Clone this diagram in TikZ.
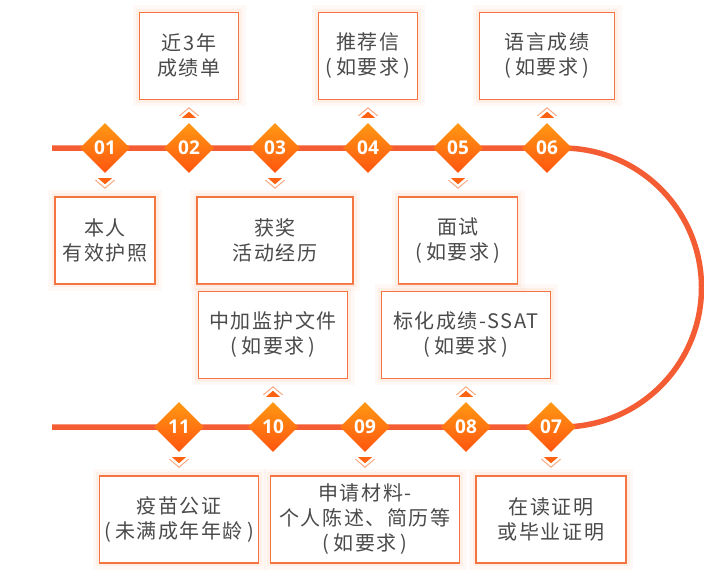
\documentclass[tikz,border=0pt]{standalone}
\usepackage{fontspec}
\setmainfont{Noto Sans CJK SC}[LetterSpace=8]
\newfontfamily\numfont{Open Sans}
\usetikzlibrary{positioning, shapes.geometric}

\definecolor{trackred}{HTML}{F45C34}
\definecolor{steptop}{HTML}{FF9812}
\definecolor{stepbot}{HTML}{FF5510}
\definecolor{cardline}{HTML}{F47442}
\definecolor{cardtext}{HTML}{4A4A4A}
\definecolor{glowc}{HTML}{FCDCCB}
\definecolor{tipline}{HTML}{F9A276}

\newcommand{\inparen}[1]{(\hspace{4pt}#1\hspace{4pt})}

\tikzset{
  track/.style={draw=trackred, line width=5.5pt},
  stepmark/.style={diamond, minimum width=50pt, minimum height=50pt, inner sep=0pt,
    top color=steptop, bottom color=stepbot, text=white,
    font=\numfont\bfseries\fontsize{19}{19}\selectfont},
  card/.style={draw=cardline, line width=1.3pt, fill=white, minimum height=87pt,
    inner xsep=1pt, align=center, text=cardtext, font=\fontsize{20}{25}\selectfont,
    preaction={draw=glowc, line width=14pt, opacity=0.18},
    preaction={draw=glowc, line width=7pt, opacity=0.35}},
  pics/downtip/.style={code={
    \draw[tipline, line width=0.9pt] (-9.5,7) -- (0,15) -- (9.5,7);
    \fill[stepbot!80!steptop] (-7,5) -- (7,5) -- (0,11) -- cycle;
  }},
  pics/uptip/.style={code={
    \draw[tipline, line width=0.9pt] (-9.5,-7) -- (0,-15) -- (9.5,-7);
    \fill[stepbot!80!steptop] (-7,-5) -- (7,-5) -- (0,-11) -- cycle;
  }}
}

\begin{document}
% pixel grid of the reference: x to the right, y downwards
\begin{tikzpicture}[x=1pt, y=-1pt]
    \useasboundingbox (0,0) rectangle (704,579);
    \coordinate (tl) at (52,148);
    \coordinate (tr) at (562,148);
    \coordinate (bl) at (52,427);
    \draw[track] (tl) -- (tr) arc[start angle=-90, end angle=90, radius=139.5] -- (bl);

    \foreach \n/\x/\y in {01/105/148, 02/189/148, 03/275/148, 04/368/148, 05/458/148, 06/547/148,
                          07/551/427, 08/466/427, 09/365/427, 10/273/427, 11/179/427}
        \node[stepmark] (d\n) at (\x,\y) {\n};

    % steps above and below the track
    \node[card, minimum width=99pt, above=23pt of d02] (b02) {近3年\\成绩单};
    \node[card, minimum width=99pt, above=23pt of d04] (b04) {推荐信\\\inparen{如要求}};
    \node[card, minimum width=135pt, above=23pt of d06] (b06) {语言成绩\\\inparen{如要求}};
    \node[card, minimum width=100pt, below=23pt of d01] (b01) {本人\\有效护照};
    \node[card, minimum width=156pt, below=23pt of d03] (b03) {获奖\\活动经历};
    \node[card, minimum width=119pt, below=23pt of d05] (b05) {面试\\\inparen{如要求}};
    \node[card, minimum width=149pt, above=23pt of d10] (b10) {中加监护文件\\\inparen{如要求}};
    \node[card, minimum width=169pt, above=23pt of d08] (b08) {标化成绩-SSAT\\\inparen{如要求}};
    \node[card, minimum width=159pt, below=23pt of d11] (b11) {疫苗公证\\\inparen{未满成年年龄}};
    \node[card, minimum width=189pt, below=23pt of d09] (b09) {申请材料-\\个人陈述、简历等\\\inparen{如要求}};
    \node[card, minimum width=150pt, below=23pt of d07] (b07) {在读证明\\或毕业证明};

    % little pointers
    \foreach \n in {01,03,05,11,09,07} \pic at (d\n.south) {downtip};
    \foreach \n in {02,04,06,10,08} \pic at (d\n.north) {uptip};
\end{tikzpicture}
\end{document}
